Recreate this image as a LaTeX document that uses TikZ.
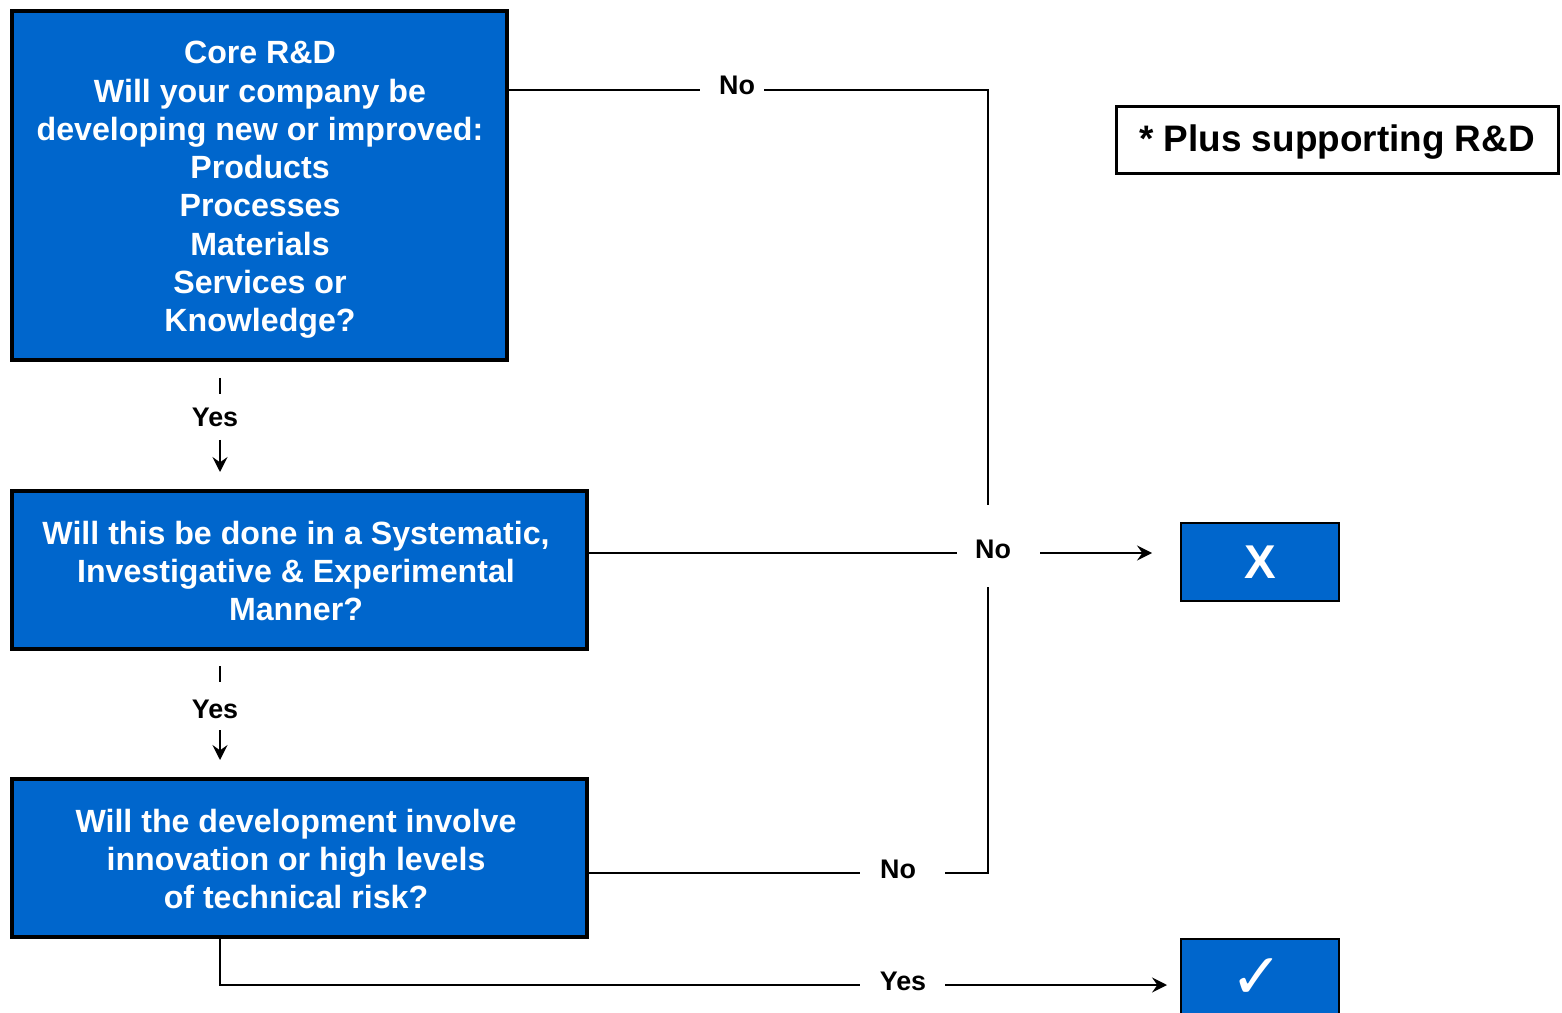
\documentclass[tikz,border=0pt]{standalone}
\usepackage{fontspec}
\setmainfont{Liberation Sans}
\newfontfamily\symfont{DejaVu Sans}
\usetikzlibrary{arrows.meta}
\definecolor{boxblue}{RGB}{0,102,204}
\begin{document}
\begin{tikzpicture}[x=0.02cm,y=-0.02cm,
  qbox/.style={draw=black,line width=2.3pt,fill=boxblue,inner sep=0pt},
  qtext/.style={text=white,font=\fontsize{18.3}{21.8}\selectfont\bfseries,align=center,inner sep=0pt},
  rbox/.style={draw=black,line width=1.2pt,fill=boxblue,text=white,inner sep=0pt},
  lbl/.style={font=\fontsize{15.3}{17}\selectfont\bfseries,inner sep=0pt},
  conn/.style={draw=black,line width=1.1pt},
  arr/.style={conn,-{Stealth[length=8.5pt,width=8.5pt,inset=3pt]}}]
\useasboundingbox (0,0) rectangle (1562,1013);
\clip (0,0) rectangle (1562,1013);
% boxes
\node[qbox,minimum width=9.9cm,minimum height=6.98cm] (b1) at (259.5,185.5) {};
\node[qtext] (t1) at (260,190)
 {Core R\&D\\Will your company be\\developing new or improved:\\Products\\Processes\\Materials\\Services or\\Knowledge?};
\node[qbox,minimum width=11.5cm,minimum height=3.16cm] (b2) at (299.5,570) {};
\node[qtext] (t2) at (296,571)
 {Will this be done in a Systematic,\\Investigative \& Experimental\\Manner?};
\node[qbox,minimum width=11.5cm,minimum height=3.16cm] (b3) at (299.5,858) {};
\node[qtext] (t3) at (296,859)
 {Will the development involve\\innovation or high levels\\of technical risk?};
\node[rbox,minimum width=3.16cm,minimum height=1.56cm,font=\fontsize{27}{30}\selectfont\bfseries] (xb) at (1260,562) {X};
\node[rbox,minimum width=3.16cm,minimum height=2cm] (cb) at (1260,989) {};
\node[text=white,font=\symfont\fontsize{36}{38}\selectfont,inner sep=0pt,text depth=0pt,text height=22pt] (ck) at (1257,979) {✓};
\node[draw=black,line width=1.7pt,fill=white,minimum width=8.84cm,minimum height=1.34cm,inner sep=0pt] (note) at (1337.5,140) {};
\node[font=\fontsize{21}{24}\selectfont\bfseries,inner sep=0pt] (notet) at (1337,142) {* Plus supporting R\&D};
% labels
\node[lbl] (noA) at (737,85) {No};
\node[lbl] (noB) at (993,549) {No};
\node[lbl] (noC) at (898,869) {No};
\node[lbl] (yesD) at (903,981) {Yes};
\node[lbl] (yesA) at (215,417) {Yes};
\node[lbl] (yesB) at (215,709) {Yes};
% gap end points
\coordinate (aL) at (700,90);  \coordinate (aR) at (764,90);
\coordinate (corA) at (988,90);
\coordinate (vtop) at (988,505);
\coordinate (bL) at (957,553); \coordinate (bR) at (1040,553);
\coordinate (bE) at (1152,553);
\coordinate (vbot) at (988,587);
\coordinate (corC) at (988,873);
\coordinate (cL) at (860,873); \coordinate (cR) at (945,873);
\coordinate (corD) at (220,985);
\coordinate (dL) at (860,985); \coordinate (dR) at (945,985);
\coordinate (dE) at (1167,985);
\coordinate (y1s) at (220,378); \coordinate (y1e) at (220,394);
\coordinate (y1a) at (220,440); \coordinate (y1b) at (220,472);
\coordinate (y2s) at (220,666); \coordinate (y2e) at (220,682);
\coordinate (y2a) at (220,730); \coordinate (y2b) at (220,760);
% connectors
\draw[conn] (b1.east|-aL) -- (aL);
\draw[conn] (aR) -- (corA) -- (vtop);
\draw[conn] (b2.east|-bL) -- (bL);
\draw[arr] (bR) -- (bE);
\draw[conn] (b3.east|-cL) -- (cL);
\draw[conn] (cR) -- (corC) -- (vbot);
\draw[conn] (y1s) -- (y1e);
\draw[arr] (y1a) -- (y1b);
\draw[conn] (y2s) -- (y2e);
\draw[arr] (y2a) -- (y2b);
\draw[conn] (b3.south-|corD) -- (corD) -- (dL);
\draw[arr] (dR) -- (dE);
\end{tikzpicture}
\end{document}
